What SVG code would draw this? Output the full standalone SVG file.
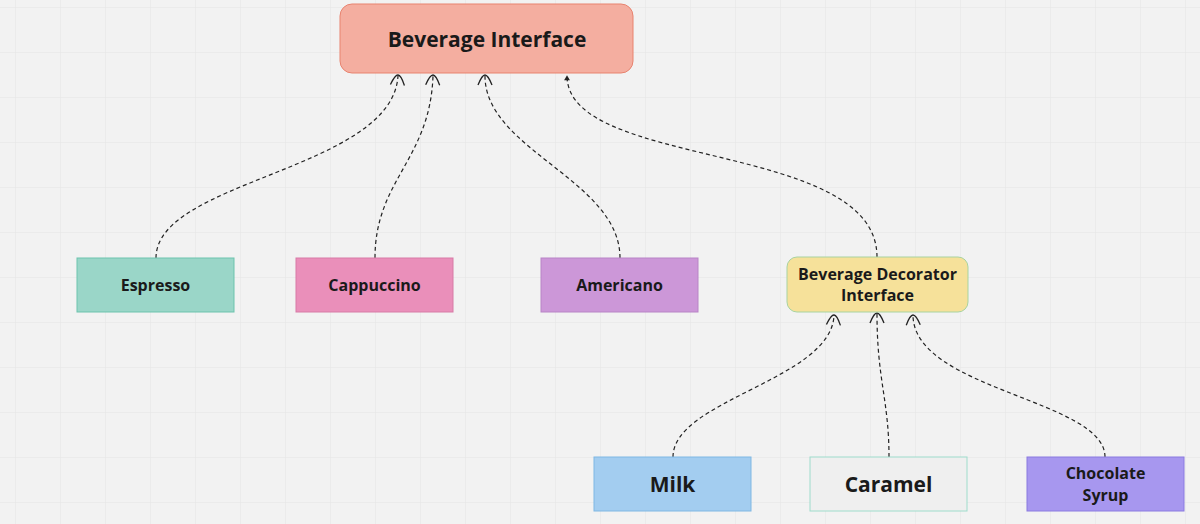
<svg xmlns="http://www.w3.org/2000/svg" width="1200" height="524" viewBox="0 0 1200 524">
<defs>
<pattern id="grid" width="45" height="45" patternUnits="userSpaceOnUse" x="15" y="7">
<path d="M45 0H0V45" fill="none" stroke="#e4e4e4" stroke-width="1"/>
</pattern>
<marker id="open" viewBox="-10 -10 20 20" markerWidth="20" markerHeight="20" refX="0" refY="0" orient="auto" markerUnits="userSpaceOnUse">
<path d="M-9,-7 Q1,-3 1,0 Q1,3 -9,7" fill="none" stroke="#222" stroke-width="1.3"/>
</marker>
<marker id="solid" viewBox="-6 -6 12 12" markerWidth="10" markerHeight="10" refX="0" refY="0" orient="auto" markerUnits="userSpaceOnUse">
<path d="M-5,-3.5 L1,0 L-5,3.5 Z" fill="#222"/>
</marker>
</defs>
<style>
text{font-family:"Open Sans","Liberation Sans",sans-serif;font-weight:bold;fill:#1a1a1a;text-anchor:middle;dominant-baseline:central}
.c{fill:none;stroke:#222;stroke-width:1.2;stroke-dasharray:4 3}
.s{font-size:16px}
.l{font-size:21px}
</style>
<rect width="1200" height="524" fill="#f2f2f2"/>
<rect width="1200" height="524" fill="url(#grid)"/>
<g id="connectors">
<path class="c" d="M156,258 C156,180 392,170 398,76" marker-end="url(#open)"/>
<path class="c" d="M375,258 C375,180 430,160 433,76" marker-end="url(#open)"/>
<path class="c" d="M620,258 C620,180 485,150 485,76" marker-end="url(#open)"/>
<path class="c" d="M877,257 C877,140 568,170 567,76" marker-end="url(#solid)"/>
<path class="c" d="M673,457 C673,400 830,380 834,316" marker-end="url(#open)"/>
<path class="c" d="M889,457 C889,400 877,380 877,314" marker-end="url(#open)"/>
<path class="c" d="M1105,457 C1105,400 915,390 913,316" marker-end="url(#open)"/>
</g>
<g id="beverage-interface">
<rect x="340" y="4" width="293" height="69" rx="12" fill="#f4aea0" stroke="#e8836f"/>
<text x="487" y="39" font-size="21">Beverage Interface</text>
</g>
<g id="espresso">
<rect x="77" y="258" width="157" height="54" fill="#9ad6c8" stroke="#6cc3ad"/>
<text class="s" x="155.5" y="285">Espresso</text>
</g>
<g id="cappuccino">
<rect x="296" y="258" width="157" height="54" fill="#ea8fba" stroke="#d77aa6"/>
<text class="s" x="374.5" y="285">Cappuccino</text>
</g>
<g id="americano">
<rect x="541" y="258" width="157" height="54" fill="#cc97d8" stroke="#b884c6"/>
<text class="s" x="619.5" y="285">Americano</text>
</g>
<g id="beverage-decorator-interface">
<rect x="787" y="257" width="181" height="55" rx="10" fill="#f6e19a" stroke="#a8d3a0"/>
<text class="s" x="877.5" y="274">Beverage Decorator</text>
<text class="s" x="877.5" y="295">Interface</text>
</g>
<g id="milk">
<rect x="594" y="457" width="157" height="54" fill="#a3cdf0" stroke="#7fb7e3"/>
<text class="l" x="672.5" y="484">Milk</text>
</g>
<g id="caramel">
<rect x="810" y="457" width="157" height="54" fill="#efefef" stroke="#9edccb"/>
<text class="l" x="888.5" y="484">Caramel</text>
</g>
<g id="chocolate-syrup">
<rect x="1027" y="457" width="157" height="54" fill="#a797ef" stroke="#8a7ae0"/>
<text class="s" x="1105.5" y="473">Chocolate</text>
<text class="s" x="1105.5" y="495">Syrup</text>
</g>
</svg>
